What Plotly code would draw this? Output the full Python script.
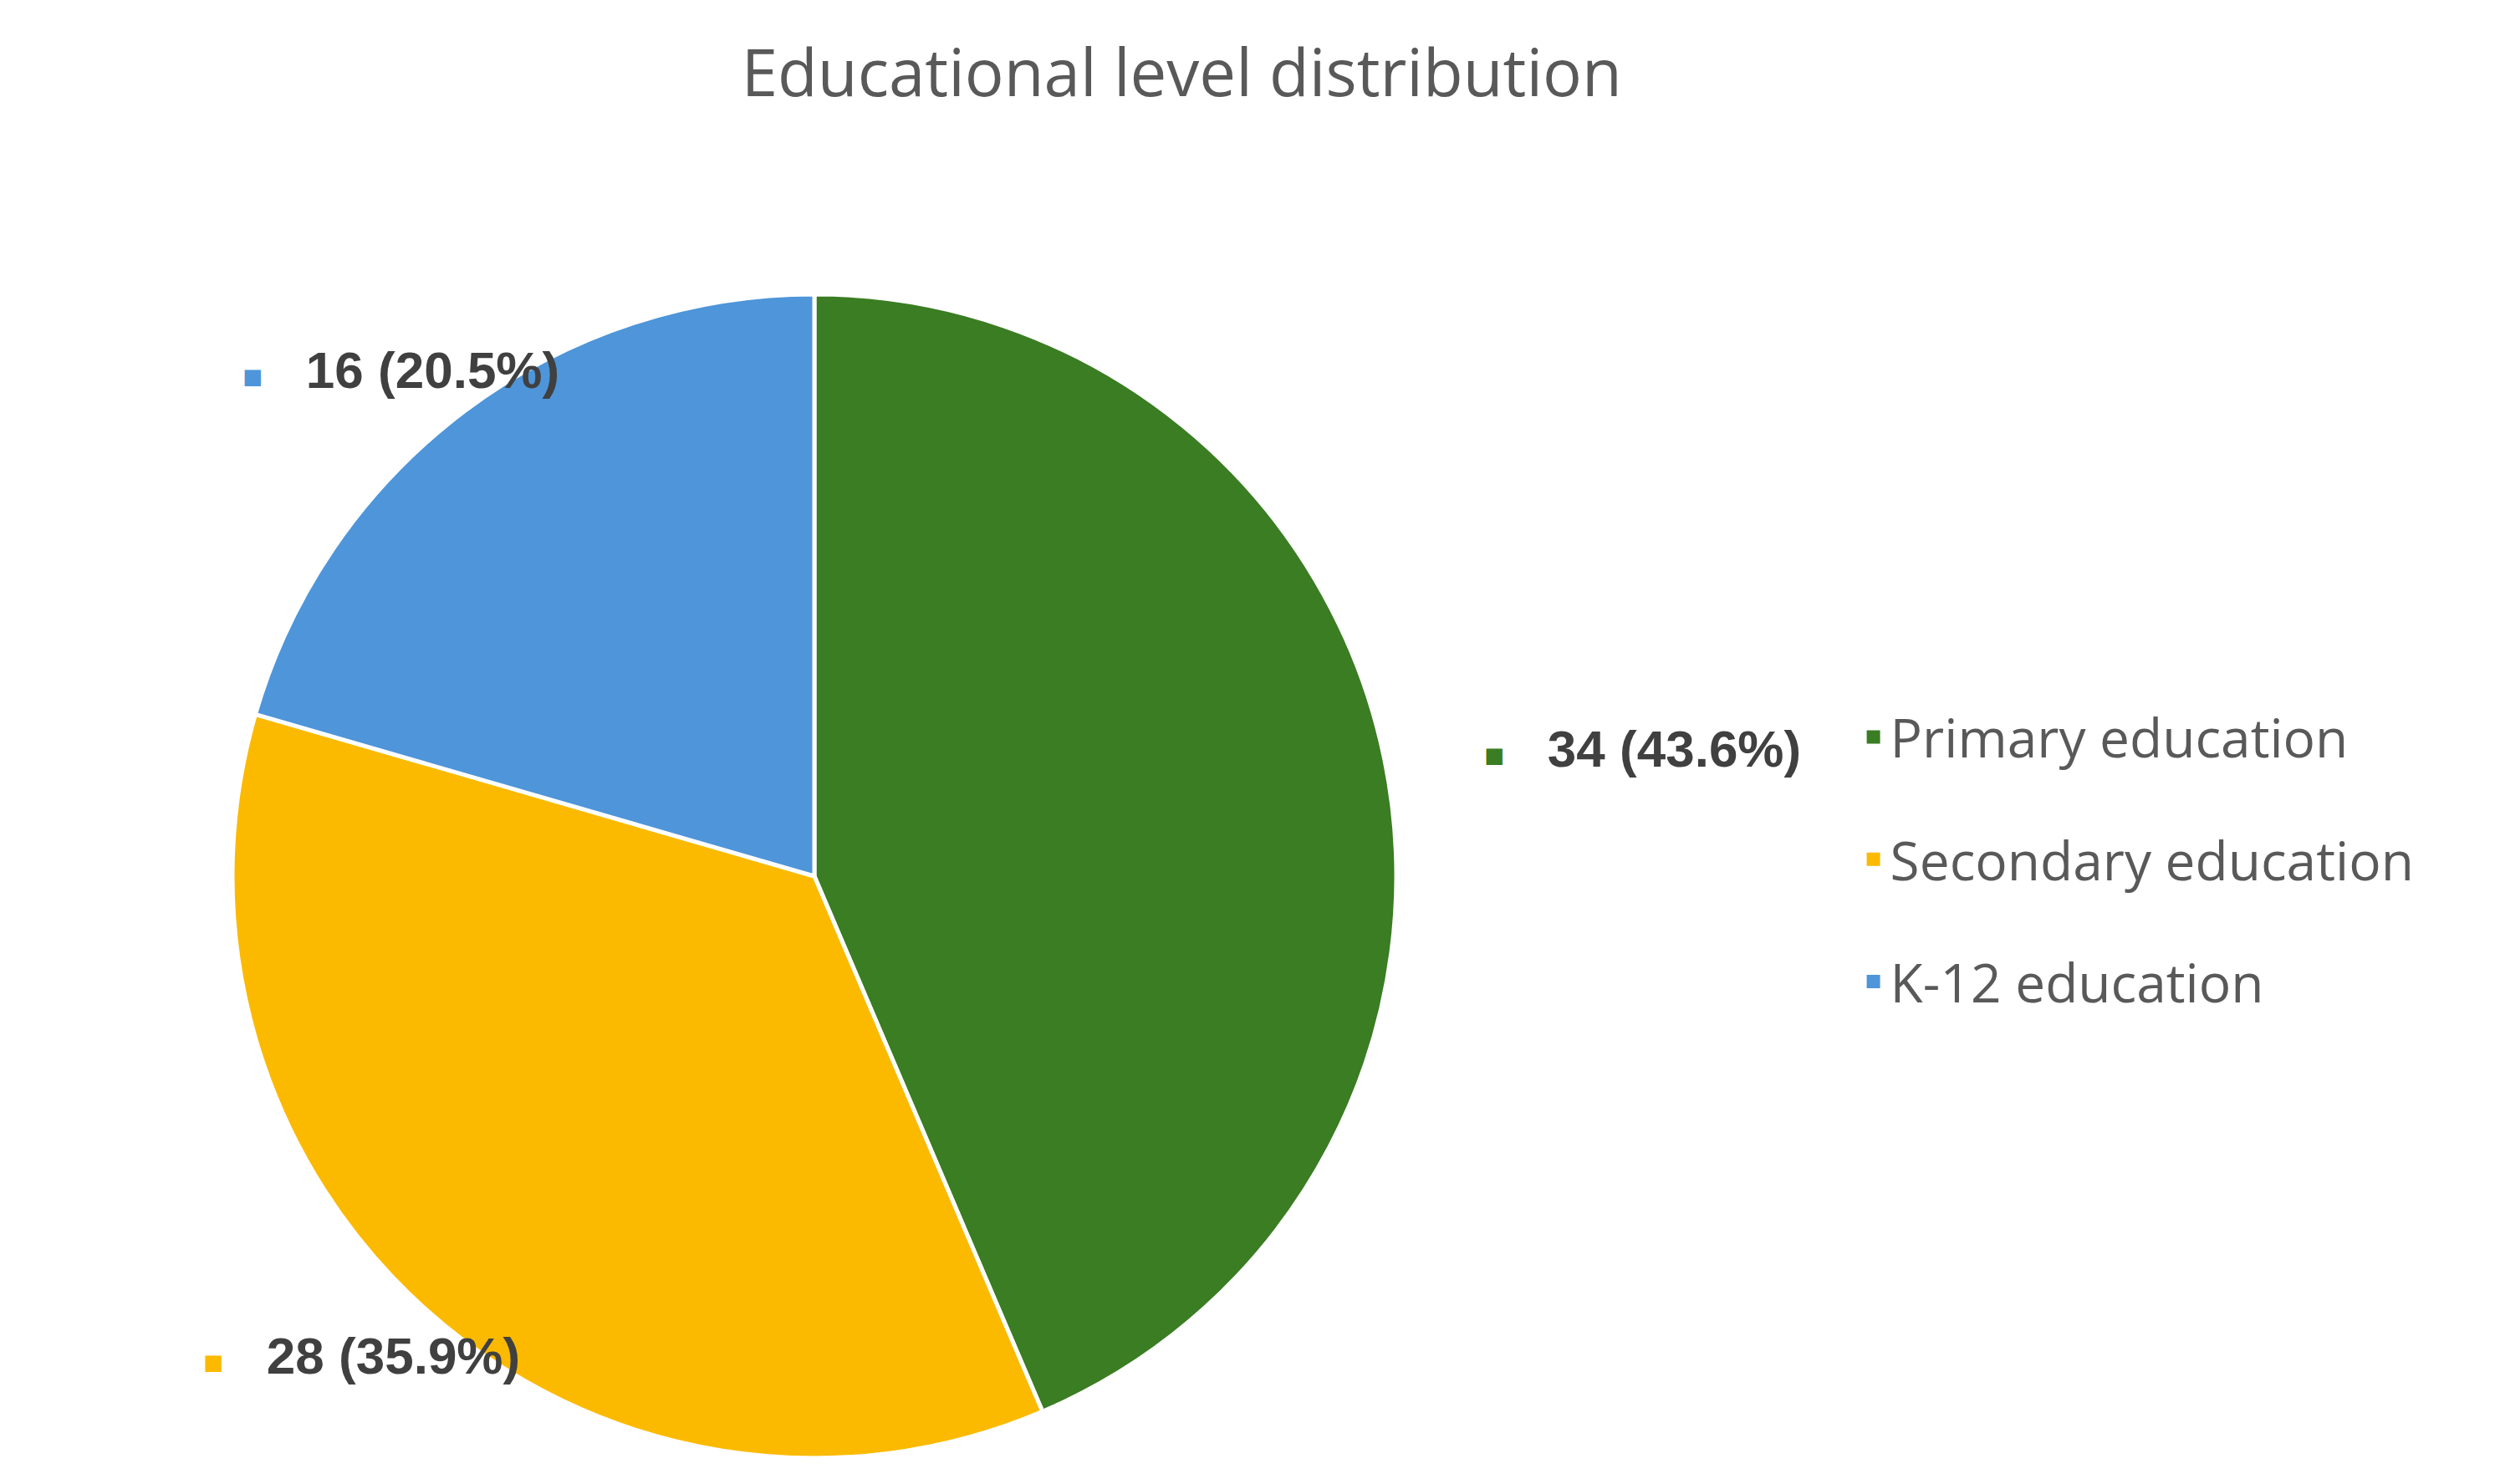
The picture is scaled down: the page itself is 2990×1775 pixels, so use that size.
import plotly.graph_objects as go
import math

categories = ["Primary education", "Secondary education", "K-12 education"]
values = [34, 28, 16]
colors = ["#3A7D22", "#FBBA00", "#4E95D9"]
label_angle_shift = [-2.8, -8.7, 10.0]   # degrees, label placement
label_dist = [1.44, 1.37, 1.35]         # multiples of radius

W, H = 2990, 1775
cx, cy, r = 966, 1040, 696  # pixel centre/radius

fig = go.Figure(go.Pie(
    labels=categories, values=values, sort=False, direction="clockwise", rotation=0,
    marker=dict(colors=colors, line=dict(color="white", width=5)),
    textinfo="none", hoverinfo="label+value+percent", showlegend=False,
    domain=dict(x=[(cx - r) / W, (cx + r) / W], y=[1 - (cy + r) / H, 1 - (cy - r) / H]),
))

for i, (cat, c) in enumerate(zip(categories, colors)):
    fig.add_trace(go.Scatter(x=[None], y=[None], mode="markers", name=cat,
                             legendgroup=str(i),
                             marker=dict(symbol="square", size=30, color=c)))

total = sum(values)
cum = 0
for v, c, sh, kd in zip(values, colors, label_angle_shift, label_dist):
    mid = 90 - 360 * (cum + v / 2) / total + sh
    cum += v
    a = math.radians(mid)
    px = cx + kd * r * math.cos(a)
    py = cy - kd * r * math.sin(a)
    fig.add_annotation(
        x=px / W, y=1 - py / H, xref="paper", yref="paper", showarrow=False,
        text=f"<span style='color:{c};font-size:40px'>■</span>   <b>{v} ({100 * v / total:.1f}%)</b>",
        font=dict(family="Liberation Sans", size=62, color="#404040"),
    )

fig.update_layout(
    width=W, height=H, paper_bgcolor="white", plot_bgcolor="white",
    margin=dict(l=0, r=0, t=0, b=0),
    xaxis=dict(visible=False), yaxis=dict(visible=False),
    title=dict(text="Educational level distribution", x=0.47, xanchor="center", y=0.955, yanchor="middle",
               font=dict(family="Open Sans", size=78, color="#595959")),
    legend=dict(x=0.74, y=0.535, xanchor="left", yanchor="top",
                font=dict(family="Open Sans", size=64, color="#595959"),
                itemwidth=30, tracegroupgap=60),
    showlegend=True,
)
fig.write_html("out.html")
